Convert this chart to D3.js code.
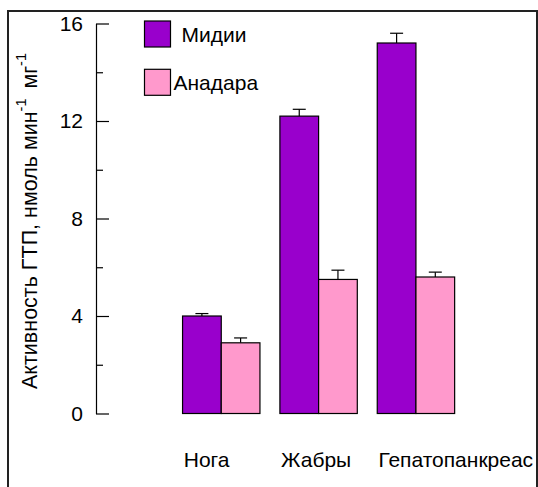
<!DOCTYPE html>
<html><head><meta charset="utf-8">
<script src="https://cdn.jsdelivr.net/npm/d3@7"></script>
<style>
html,body{margin:0;padding:0;background:#fff;}
svg{display:block;font-family:"Liberation Sans",Arial,sans-serif;}
</style></head>
<body>
<svg id="chart" width="538" height="487"></svg>
<script>
const categories = ["Нога", "Жабры", "Гепатопанкреас"];
const seriesNames = ["Мидии", "Анадара"];
const mussels = [4.0, 12.2, 15.2];
const musselsErr = [0.1, 0.28, 0.4];
const anadara = [2.9, 5.5, 5.6];
const anadaraErr = [0.2, 0.38, 0.2];
const yTicks = [0, 4, 8, 12, 16];
const yMinorTicks = [2, 6, 10, 14];
const colors = ["#9900cc", "#ff99cc"];

const FS = 21;
const svg = d3.select("#chart");

const y = d3.scaleLinear().domain([0, 16]).range([413.5, 23.5]);
const x = d3.scaleBand().domain(categories).range([162.6, 474.6]).padding(0.205);
const xs = d3.scaleBand().domain(seriesNames).range([0, x.bandwidth()]);

const axisX = 96;
const gAxis = svg.append("g").attr("transform", `translate(${axisX},0)`);
gAxis.call(d3.axisLeft(y).tickValues(yTicks).tickSizeInner(-13).tickSizeOuter(0).tickPadding(13).tickFormat(d3.format("d")));
gAxis.selectAll("text").attr("font-size", FS).attr("fill", "#000").attr("font-family", "Liberation Sans, Arial, sans-serif");
gAxis.selectAll("line,path").attr("stroke", "#000").attr("stroke-width", 1.2);

const gMinor = svg.append("g").attr("transform", `translate(${axisX},0)`);
gMinor.call(d3.axisLeft(y).tickValues(yMinorTicks).tickSizeInner(-7).tickSizeOuter(0).tickFormat(""));
gMinor.select(".domain").remove();
gMinor.selectAll("line").attr("stroke", "#000").attr("stroke-width", 1.2);

const series = [
  {name: seriesNames[0], values: mussels, errs: musselsErr, color: colors[0]},
  {name: seriesNames[1], values: anadara, errs: anadaraErr, color: colors[1]}
];

series.forEach(s => {
  const g = svg.append("g");
  categories.forEach((c, i) => {
    const x0 = x(c) + xs(s.name);
    const w = xs.bandwidth();
    const v = s.values[i], e = s.errs[i];
    const cx = x0 + w / 2;
    g.append("line").attr("x1", cx).attr("x2", cx).attr("y1", y(v)).attr("y2", y(v + e))
      .attr("stroke", "#000").attr("stroke-width", 1.2);
    g.append("line").attr("x1", cx - 6.5).attr("x2", cx + 6.5).attr("y1", y(v + e)).attr("y2", y(v + e))
      .attr("stroke", "#000").attr("stroke-width", 1.2);
    g.append("rect").attr("x", x0).attr("y", y(v)).attr("width", w).attr("height", y(0) - y(v))
      .attr("fill", s.color).attr("stroke", "#000").attr("stroke-width", 1.2);
  });
});

// category labels
svg.append("g").selectAll("text").data(categories).join("text")
  .attr("x", d => x(d) + 1.2).attr("y", 466.5)
  .attr("font-size", FS).attr("fill", "#000")
  .text(d => d);

// legend
const legendY = [21, 69.3];
const legendTextX = [181.5, 173.5];
series.forEach((s, i) => {
  svg.append("rect").attr("x", 144.5).attr("y", legendY[i]).attr("width", 26).attr("height", 26)
    .attr("fill", s.color).attr("stroke", "#000").attr("stroke-width", 1.2);
  svg.append("text").attr("x", legendTextX[i]).attr("y", legendY[i] + 20.7)
    .attr("font-size", FS).attr("fill", "#000").text(s.name);
});

// y label
const yl = svg.append("text")
  .attr("transform", `translate(36.5,221) rotate(-90)`)
  .attr("text-anchor", "middle").attr("font-size", 21.5).attr("fill", "#000");
yl.append("tspan").text("Активность ГТП, нмоль мин");
yl.append("tspan").attr("dy", -11).attr("font-size", 14.5).text("-1");
yl.append("tspan").attr("dy", 11).attr("dx", 4).text(" мг");
yl.append("tspan").attr("dy", -11).attr("font-size", 14.5).text("-1");

// frame (drawn last so it clips over the text like the original)
svg.append("path")
  .attr("d", "M8,487 V11 H537 V487")
  .attr("fill", "none").attr("stroke", "#222").attr("stroke-width", 2);
</script>
</body></html>
